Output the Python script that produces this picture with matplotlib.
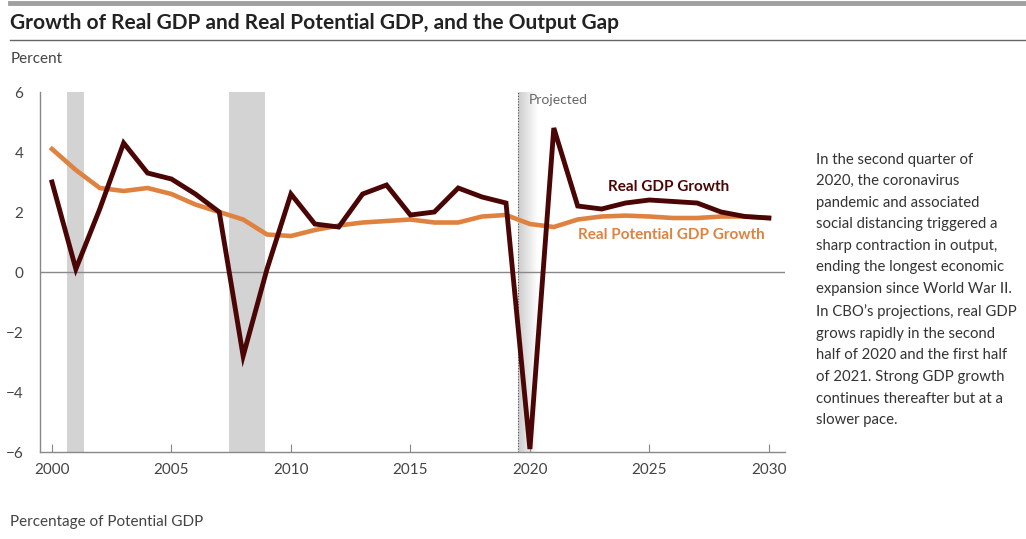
import numpy as np
import matplotlib.pyplot as plt
from matplotlib.colors import LinearSegmentedColormap

years = list(range(2000, 2031))
real_gdp = [3.0, 0.1, 2.1, 4.3, 3.3, 3.1, 2.6, 2.0, -2.8, 0.1,
            2.6, 1.6, 1.5, 2.6, 2.9, 1.9, 2.0, 2.8, 2.5, 2.3,
            -5.9, 4.8, 2.2, 2.1, 2.3, 2.4, 2.35, 2.3, 2.0, 1.85, 1.8]
potential_gdp = [4.1, 3.4, 2.8, 2.7, 2.8, 2.6, 2.25, 2.0, 1.75, 1.25,
                 1.2, 1.4, 1.55, 1.65, 1.7, 1.75, 1.65, 1.65, 1.85, 1.9,
                 1.6, 1.5, 1.75, 1.85, 1.88, 1.85, 1.8, 1.8, 1.85, 1.85, 1.8]
recessions = [(2000.65, 2001.35), (2007.4, 2008.9)]
projected_start = 2019.5

maroon = '#4a0505'
orange = '#e0823f'
txt = '#444444'
narrow = ['Lato', 'DejaVu Sans']

fig = plt.figure(figsize=(10.26, 5.39), dpi=100)
ax = fig.add_axes([0.039, 0.1614, 0.726, 0.6679])

for a, b in recessions:
    ax.axvspan(a, b, color='#d3d3d3', lw=0, zorder=0)

# fade from gray to white after the projection line
grad = np.linspace(0, 1, 50).reshape(1, -1)
cmap = LinearSegmentedColormap.from_list('g', ['#cccccc', '#ffffff'])
ax.imshow(grad, extent=[projected_start, projected_start + 0.8, -6, 6],
          aspect='auto', cmap=cmap, zorder=0)
ax.axvline(projected_start, color='#555555', lw=0.8, ls=(0, (1, 1.5)), zorder=1)
ax.text(projected_start + 0.45, 5.75, 'Projected', color='#666666', fontsize=10,
        family=narrow, va='center', ha='left')

ax.axhline(0, color='#888888', lw=1, zorder=1)

ax.plot(years, potential_gdp, color=orange, lw=3.3, solid_joinstyle='miter', zorder=3)
ax.plot(years, real_gdp, color=maroon, lw=3.5, solid_joinstyle='miter', zorder=4)

ax.text(2025.8, 2.85, 'Real GDP Growth', color=maroon, fontsize=11,
        fontweight='bold', family=narrow, ha='center', va='center')
ax.text(2025.9, 1.25, 'Real Potential GDP Growth', color=orange, fontsize=11,
        fontweight='bold', family=narrow, ha='center', va='center')

ax.set_xlim(1999.5, 2030.67)
ax.set_ylim(-6, 6)
ax.set_xticks(range(2000, 2031, 5))
ax.set_yticks(range(-6, 7, 2))
ax.set_yticklabels(['\u22126', '\u22124', '\u22122', '0', '2', '4', '6'])
ax.set_yticks([6], minor=True)
ax.tick_params(axis='y', length=0, pad=12, labelsize=11, labelcolor=txt)
ax.tick_params(axis='y', which='minor', direction='in', length=5, color='#888888')
ax.tick_params(axis='x', direction='in', length=6, color='#888888', pad=8,
               labelsize=11, labelcolor=txt)
for lab in ax.get_xticklabels() + ax.get_yticklabels():
    lab.set_family(narrow)
for s in ['top', 'right']:
    ax.spines[s].set_visible(False)
for s in ['left', 'bottom']:
    ax.spines[s].set_color('#888888')
    ax.spines[s].set_linewidth(1)

# header rules and text
fig.add_artist(plt.Line2D([0.01, 1], [0.994, 0.994], color='#a0a0a0', lw=3.5))
fig.add_artist(plt.Line2D([0.01, 1], [0.925, 0.925], color='#666666', lw=1))
fig.text(0.01, 0.958, 'Growth of Real GDP and Real Potential GDP, and the Output Gap',
         fontsize=15, fontweight='bold', color='#222222', family=narrow, va='center')
fig.text(0.01, 0.890, 'Percent', fontsize=11, color=txt, family=narrow, va='center')
fig.text(0.01, 0.032, 'Percentage of Potential GDP', fontsize=11, color=txt,
         family=narrow, va='center')

note = ("In the second quarter of\n2020, the coronavirus\npandemic and associated\n"
        "social distancing triggered a\nsharp contraction in output,\n"
        "ending the longest economic\nexpansion since World War II.\n"
        "In CBO\u2019s projections, real GDP\ngrows rapidly in the second\n"
        "half of 2020 and the first half\nof 2021. Strong GDP growth\n"
        "continues thereafter but at a\nslower pace.")
fig.text(0.795, 0.717, note, fontsize=10.7, color='#333333', family=narrow,
         va='top', ha='left', linespacing=1.69)

fig.savefig('out.png', dpi=100)
